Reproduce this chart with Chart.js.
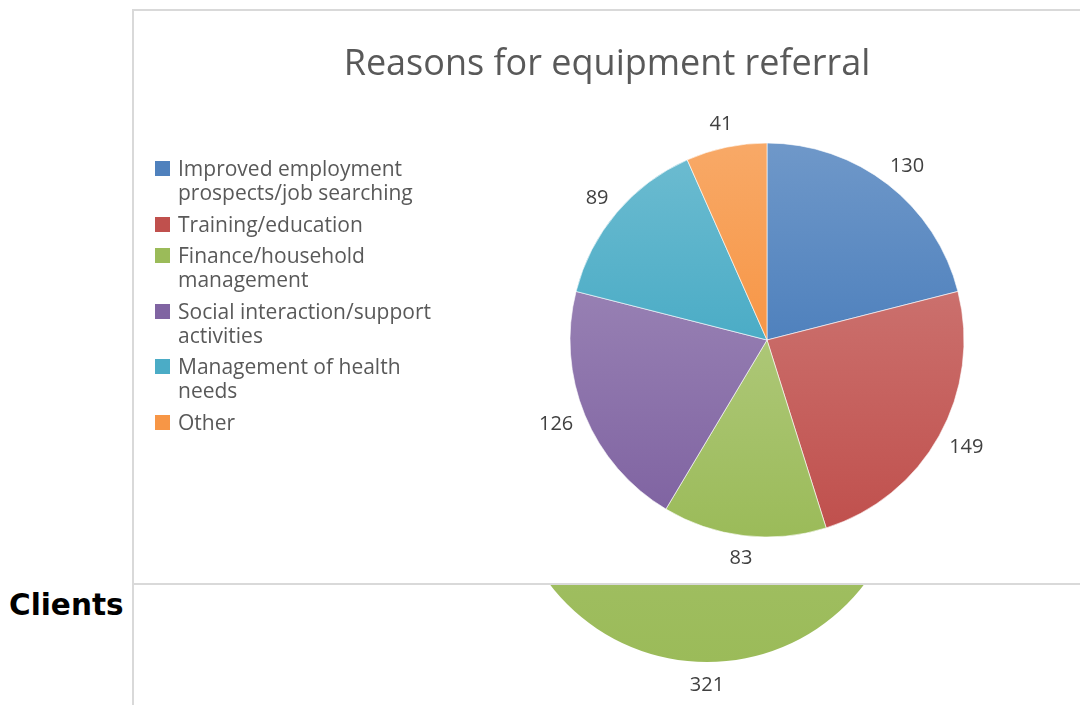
<!DOCTYPE html>
<html>
<head>
<meta charset="utf-8">
<script src="https://cdn.jsdelivr.net/npm/chart.js@4.4.9/dist/chart.umd.min.js"></script>
<style>
    body { margin: 0; width: 1080px; height: 705px; background: #fff; overflow: hidden; position: relative; font-family: "Open Sans", sans-serif; }
    #backChart { position: absolute; left: 134px; top: 200px; z-index: 0; }
    #box { position: absolute; left: 132px; top: 9px; width: 960px; height: 576px; background: #fff; border: 2px solid #d9d9d9; box-sizing: border-box; z-index: 1; }
    #frontChart { position: absolute; left: 0; top: 0; }
    #titulo { position: absolute; left: 0; top: 29px; width: 946px; text-align: center; font-size: 36px; line-height: 44px; color: #595959; }
    #legenda { position: absolute; left: 21px; top: 145px; font-size: 21px; line-height: 24px; color: #595959; }
    .item { display: flex; align-items: flex-start; margin-bottom: 7.5px; }
    .quadrado { width: 15px; height: 15px; margin-top: 5px; margin-right: 8px; flex: none; }
    #linhaEsq { position: absolute; left: 132px; top: 585px; width: 2px; height: 120px; background: #d9d9d9; }
    #clients { position: absolute; left: 9px; top: 588px; font-family: "DejaVu Sans", sans-serif; font-weight: bold; font-size: 29.5px; line-height: 34px; color: #000; }
</style>
</head>
<body>
<canvas id="backChart" width="946" height="505"></canvas>
<div id="linhaEsq"></div>
<div id="clients">Clients</div>
<div id="box">
    <canvas id="frontChart" width="946" height="572"></canvas>
    <div id="titulo">Reasons for equipment referral</div>
    <div id="legenda"></div>
</div>
<script>
// dados
const categorias = [
    ['Improved employment', 'prospects/job searching'],
    ['Training/education'],
    ['Finance/household', 'management'],
    ['Social interaction/support', 'activities'],
    ['Management of health', 'needs'],
    ['Other']
];
const valoresReferral = [130, 149, 83, 126, 89, 41];
const coresBase = ['#4F81BD', '#C0504D', '#9BBB59', '#8064A2', '#4BACC6', '#F79646'];

const categoriasClientes = ['Clients'];
const valoresClientes = [321];
const coresClientes = ['#9BBB59'];

const clarear = (hex, t) => {
    const n = parseInt(hex.slice(1), 16);
    const r = (n >> 16) & 255, g = (n >> 8) & 255, b = n & 255;
    const m = c => Math.round(c + (255 - c) * t);
    return `rgb(${m(r)},${m(g)},${m(b)})`;
}

// gradiente vertical por fatia (mais claro em cima)
const corGradiente = (cores, raio) => (context) => {
    const chart = context.chart;
    const area = chart.chartArea;
    const base = cores[context.dataIndex % cores.length];
    if (!area) return base;
    const dados = chart.data.datasets[0].data;
    const total = dados.reduce((a, b) => a + b, 0);
    let acum = 0;
    for (let i = 0; i < context.dataIndex; i++) acum += dados[i];
    const a0 = -Math.PI / 2 + 2 * Math.PI * acum / total;
    const a1 = a0 + 2 * Math.PI * dados[context.dataIndex] / total;
    const cy = (area.top + area.bottom) / 2;
    const ys = [cy, cy + raio * Math.sin(a0), cy + raio * Math.sin(a1)];
    [-Math.PI / 2, Math.PI / 2, 3 * Math.PI / 2].forEach(a => {
        if (a > a0 && a < a1) ys.push(cy + raio * Math.sin(a));
    });
    const y0 = Math.min(...ys), y1 = Math.max(...ys);
    if (y1 - y0 < 1) return base;
    const grad = chart.ctx.createLinearGradient(0, y0, 0, y1);
    grad.addColorStop(0, clarear(base, 0.18));
    grad.addColorStop(1, base);
    return grad;
}

const rotulosValores = {
    id: 'rotulosValores',
    afterDatasetsDraw(chart) {
        const ctx = chart.ctx;
        const meta = chart.getDatasetMeta(0);
        ctx.save();
        ctx.font = '20px "Open Sans"';
        ctx.fillStyle = '#404040';
        ctx.textAlign = 'center';
        ctx.textBaseline = 'middle';
        meta.data.forEach((arc, i) => {
            const p = arc.getProps(['x', 'y', 'startAngle', 'endAngle', 'outerRadius'], true);
            const meio = (p.startAngle + p.endAngle) / 2;
            const texto = String(chart.data.datasets[0].data[i]);
            const w = ctx.measureText(texto).width;
            const d = p.outerRadius + 14;
            const x = p.x + Math.cos(meio) * (d + w / 2);
            const y = p.y + Math.sin(meio) * (d + 9);
            ctx.fillText(texto, x, y);
        });
        ctx.restore();
    }
};

const legenda = document.getElementById('legenda');
categorias.forEach((linhas, i) => {
    legenda.innerHTML += `<div class="item"><div class="quadrado" style="background:${coresBase[i]}"></div><div>${linhas.join('<br>')}</div></div>`;
});

new Chart(document.getElementById('frontChart'), {
    type: 'pie',
    data: {
        labels: categorias.map(l => l.join(' ')),
        datasets: [{
            label: 'Reasons for equipment referral',
            data: valoresReferral,
            backgroundColor: corGradiente(coresBase, 197),
            borderColor: 'rgba(255,255,255,0.6)',
            borderWidth: 1
        }]
    },
    options: {
        responsive: false,
        animation: false,
        radius: 197,
        layout: { padding: { left: 320, right: 0, top: 86, bottom: 0 } },
        plugins: { legend: { display: false }, tooltip: { enabled: false } }
    },
    plugins: [rotulosValores]
});

new Chart(document.getElementById('backChart'), {
    type: 'pie',
    data: {
        labels: categoriasClientes,
        datasets: [{
            label: 'Clients',
            data: valoresClientes,
            backgroundColor: corGradiente(coresClientes, 198),
            borderWidth: 0
        }]
    },
    options: {
        responsive: false,
        animation: false,
        radius: 198,
        layout: { padding: { left: 200, right: 0, top: 23, bottom: 0 } },
        plugins: { legend: { display: false }, tooltip: { enabled: false } }
    },
    plugins: [rotulosValores]
});
</script>
</body>
</html>
